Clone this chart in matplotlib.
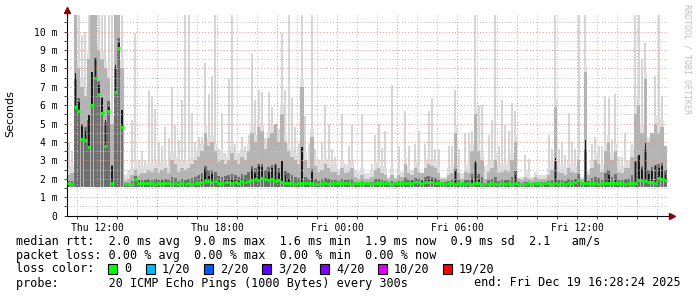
import matplotlib.pyplot as plt
from matplotlib.patches import Rectangle
import numpy as np

# ping data, one value per 10 minute step starting Thu 10:30 (hours from Thu 00:00)
start_hour = 10.5
step_hours = 1 / 6

median_ms = [
    1.75, 1.7, 5.9, 5.7, 4.15, 4.1, 3.75, 6.0, 7.5, 6.6, 5.6, 3.8,
    5.7, 1.8, 6.7, 9.1, 4.8, 1.72, 1.7, 1.72, 2.0, 1.8, 1.78, 1.8,
    1.75, 1.75, 1.7, 1.75, 1.8, 1.75, 1.75, 1.72, 1.75, 1.7, 1.75, 1.72,
    1.75, 1.72, 1.75, 1.78, 1.85, 1.9, 1.9, 1.85, 1.9, 1.8, 1.75, 1.85,
    1.85, 1.8, 1.85, 1.8, 1.9, 1.85, 1.9, 1.95, 2.0, 1.95, 2.05, 2.0,
    1.95, 2.0, 1.9, 1.95, 1.85, 1.75, 1.8, 1.75, 1.72, 1.75, 1.8, 1.75,
    1.75, 1.8, 1.72, 1.7, 1.75, 1.75, 1.72, 1.75, 1.75, 1.78, 1.75, 1.75,
    1.75, 1.72, 1.75, 1.75, 1.78, 1.75, 1.75, 1.72, 1.75, 1.75, 1.78, 1.75,
    1.75, 1.72, 1.75, 1.78, 1.78, 1.75, 1.75, 1.8, 1.82, 1.82, 1.8, 1.85,
    1.85, 1.85, 1.8, 1.75, 1.75, 1.72, 1.75, 1.75, 1.72, 1.75, 1.75, 1.72,
    1.75, 1.72, 1.75, 1.75, 1.72, 1.7, 1.72, 1.75, 1.72, 1.72, 1.75, 1.72,
    1.75, 1.72, 1.75, 1.72, 1.7, 1.72, 1.75, 1.7, 1.75, 1.78, 1.72, 1.75,
    1.75, 1.72, 1.75, 1.72, 1.75, 1.72, 1.75, 1.75, 1.85, 1.95, 1.78, 1.75,
    1.75, 1.78, 1.75, 1.72, 1.75, 1.78, 1.8, 1.75, 1.75, 1.78, 1.75, 1.72,
    1.75, 1.78, 1.8, 1.95, 1.95, 1.9, 1.85, 1.85, 1.8, 2.05, 2.0, 1.95,
]

# upper edge of the denser (medium grey) smoke
mid_ms = [
    2.2, 2.3, 11, 8.0, 7.0, 6.5, 8.5, 11, 11, 9.0, 8.5, 8.0,
    7.5, 5.0, 11, 11, 8.0, 1.9, 2.0, 2.2, 2.5, 2.2, 2.3, 2.3,
    2.5, 2.4, 2.6, 2.3, 2.5, 2.6, 2.3, 3.0, 2.8, 2.4, 2.6, 2.5,
    2.6, 2.8, 3.0, 3.2, 3.5, 4.5, 3.8, 4.0, 3.5, 2.9, 3.0, 2.8,
    3.0, 3.4, 3.0, 2.8, 3.2, 3.0, 3.5, 4.5, 4.0, 4.8, 4.6, 3.6,
    4.2, 4.5, 5.0, 4.0, 5.5, 4.0, 3.5, 3.2, 3.0, 2.8, 7.0, 3.0,
    2.6, 4.3, 2.7, 2.4, 2.5, 2.8, 2.6, 2.4, 2.4, 2.2, 2.6, 2.3,
    2.4, 2.6, 2.1, 2.0, 2.2, 2.0, 2.0, 2.1, 2.5, 2.6, 2.3, 2.2,
    2.0, 2.2, 2.0, 2.2, 2.1, 2.8, 2.3, 2.2, 2.6, 2.4, 2.3, 2.6,
    2.8, 2.7, 2.6, 2.3, 2.0, 2.0, 2.2, 2.3, 4.5, 2.3, 2.0, 2.4,
    2.3, 3.5, 5.5, 3.5, 3.0, 2.0, 2.4, 2.6, 3.0, 2.3, 2.4, 2.5,
    2.4, 3.0, 4.0, 2.0, 1.95, 2.1, 2.0, 1.95, 2.1, 2.0, 2.0, 2.0,
    2.2, 2.5, 5.9, 2.4, 2.3, 2.2, 2.6, 2.4, 2.3, 3.0, 2.0, 7.8,
    2.2, 2.6, 3.0, 2.8, 2.4, 3.5, 4.0, 3.0, 3.5, 2.4, 2.3, 2.6,
    2.6, 3.2, 5.5, 6.0, 4.5, 7.4, 4.0, 4.5, 5.0, 4.5, 4.8, 3.8,
]

# slowest ping of each step (light grey smoke)
top_ms = [
    4.0, 3.5, 11, 11, 9.8, 10.0, 11, 11, 11, 11, 11, 11,
    11, 11, 11, 11, 11, 2.2, 2.5, 5.2, 9.9, 3.0, 3.5, 3.0,
    6.8, 6.5, 5.8, 4.0, 3.8, 4.8, 4.2, 7.0, 4.9, 4.1, 6.3, 11,
    11, 5.6, 4.0, 4.3, 4.3, 8.3, 6.6, 7.6, 11, 3.6, 5.6, 3.4,
    7.4, 11, 3.9, 3.4, 4.3, 3.8, 4.4, 8.8, 6.3, 6.8, 6.7, 4.2,
    6.7, 5.9, 4.3, 4.7, 9.9, 6.8, 11, 6.4, 4.8, 3.9, 11, 5.4,
    3.9, 11, 3.6, 3.0, 4.0, 6.0, 5.0, 3.6, 3.2, 2.5, 5.5, 2.8,
    3.8, 4.9, 2.5, 2.4, 5.5, 2.3, 2.3, 2.8, 4.4, 5.0, 3.7, 4.6,
    2.1, 7.1, 2.1, 3.8, 2.4, 5.7, 3.8, 2.5, 3.9, 4.6, 2.3, 3.9,
    5.7, 6.4, 3.6, 3.6, 2.1, 2.1, 3.8, 3.8, 6.8, 3.6, 2.3, 4.5,
    4.5, 4.6, 11, 6.0, 6.0, 2.7, 4.4, 5.2, 11, 3.8, 6.3, 4.9,
    4.6, 6.1, 5.7, 2.1, 2.1, 3.3, 3.1, 2.1, 2.4, 2.2, 2.2, 2.2,
    4.4, 3.6, 11, 3.6, 4.0, 3.3, 5.6, 4.0, 3.6, 11, 2.1, 11,
    2.5, 3.9, 4.3, 3.8, 3.8, 6.5, 6.4, 4.1, 6.6, 3.2, 3.2, 4.5,
    3.0, 3.9, 11, 11, 8.5, 9.4, 4.3, 4.3, 7.6, 11, 6.5, 2.7,
]

fastest_ms = 1.58

x_ticks = [12, 18, 24, 30, 36]
x_labels = ["Thu 12:00", "Thu 18:00", "Fri 00:00", "Fri 06:00", "Fri 12:00"]

loss_labels = ["0", "1/20", "2/20", "3/20", "4/20", "10/20", "19/20"]
loss_colors = ["#00ff00", "#00b8ff", "#0059ff", "#5e00ff", "#7e00ff", "#dd00ff", "#ff0000"]

legend_lines = [
    "median rtt:  2.0 ms avg  9.0 ms max  1.6 ms min  1.9 ms now  0.9 ms sd  2.1   am/s",
    "packet loss: 0.00 % avg  0.00 % max  0.00 % min  0.00 % now",
    "loss color:",
    "probe:       20 ICMP Echo Pings (1000 Bytes) every 300s",
]
end_text = "end: Fri Dec 19 16:28:24 2025"

W, H = 697, 297
fig = plt.figure(figsize=(W / 100, H / 100), dpi=100)
ax = fig.add_axes([67 / W, 1 - 215.7 / H, (668 - 67) / W, (215.7 - 15) / H])

med = np.array(median_ms)
mid = np.array(mid_ms)
top = np.array(top_ms)
t = start_hour + step_hours * np.arange(len(med))
spread = mid - med

# smoke layers, light to dark; the tall outliers are drawn as thin columns
base = np.minimum(top, mid + 0.4)
ax.bar(t, base - fastest_ms, bottom=fastest_ms, width=step_hours, align="edge",
       color="#dedede", linewidth=0, zorder=1)
ax.bar(t + step_hours / 2, top - base, bottom=base, width=step_hours * 0.55,
       color="#d6d6d6", linewidth=0, zorder=1)
ax.bar(t, mid - fastest_ms, bottom=fastest_ms, width=step_hours, align="edge",
       color="#b4b4b4", linewidth=0, zorder=1.1)
dark = med + 0.3 * spread
ax.bar(t + step_hours / 2, dark - fastest_ms, bottom=fastest_ms, width=step_hours * 0.75,
       color="#6e6e6e", linewidth=0, zorder=1.2)
black_h = 0.15 + 0.5 * np.maximum(spread - 1.5, 0)
ax.bar(t + step_hours / 2, black_h, bottom=med - 0.08, width=step_hours * 0.5,
       color="#1a1a1a", linewidth=0, zorder=1.3)

# median rtt
ax.hlines(med, t, t + step_hours, color="#00ff00", linewidth=2.2, zorder=3)

ax.set_xlim(10.5, 40.55)
ax.set_ylim(0, 10.9)

ax.set_xticks(np.arange(12, 40, 3))
ax.set_xticklabels([x_labels[x_ticks.index(h)] if h in x_ticks else "" for h in range(12, 40, 3)])
ax.set_xticks(np.arange(11, 41, 1), minor=True)
ax.set_yticks(np.arange(0, 11, 1))
ax.set_yticklabels(["0"] + [f"{v} m" for v in range(1, 11)])
ax.set_yticks(np.arange(0.5, 10.9, 1), minor=True)

ax.grid(which="major", color="#e89a9a", linestyle=(0, (1, 2)), linewidth=0.75)
ax.grid(which="minor", color="#c4c4c4", linestyle=(0, (1, 2)), linewidth=0.75)
ax.set_axisbelow(False)

ax.tick_params(which="both", direction="out", length=2, width=0.7, color="#404040",
               labelsize=7, pad=3)
ax.tick_params(axis="y", which="major", pad=5)
for lab in ax.get_xticklabels() + ax.get_yticklabels():
    lab.set_family("DejaVu Sans Mono")

for side in ["top", "right"]:
    ax.spines[side].set_visible(False)
ax.spines["left"].set_linewidth(0.8)
ax.spines["bottom"].set_linewidth(0.8)
ax.set_facecolor("white")

# axis arrows
ax.plot([0, 0], [1, 1.02], color="black", lw=0.8, transform=ax.transAxes, clip_on=False)
ax.plot([1, 1.005], [0, 0], color="black", lw=0.8, transform=ax.transAxes, clip_on=False)
ax.plot([0], [1.025], marker="^", color="#8b0000", ms=4, transform=ax.transAxes, clip_on=False)
ax.plot([1.006], [0], marker=">", color="#8b0000", ms=4, transform=ax.transAxes, clip_on=False)

# legend / text overlay in pixel coordinates
ov = fig.add_axes([0, 0, 1, 1], facecolor="none")
ov.set_xlim(0, W)
ov.set_ylim(H, 0)
ov.axis("off")

ov.text(10, 114, "Seconds", rotation=90, ha="center", va="center", fontsize=8,
        family="DejaVu Sans")
ov.text(687, 4, "RRDTOOL / TOBI OETIKER", rotation=270, ha="center", va="top",
        fontsize=6, family="DejaVu Sans Mono", color="#c0c0c0")

rows_y = [241, 255, 269, 283]
for line, y in zip(legend_lines, rows_y):
    ov.text(16, y, line, ha="left", va="center", fontsize=8.5, family="DejaVu Sans Mono")
ov.text(681, rows_y[3], end_text, ha="right", va="center", fontsize=8.5,
        family="DejaVu Sans Mono")

box_x = [108, 146, 204, 262, 320, 378, 443]
for bx, lab, col in zip(box_x, loss_labels, loss_colors):
    ov.add_patch(Rectangle((bx, rows_y[2] - 5), 9, 10, facecolor=col,
                           edgecolor="black", linewidth=0.8))
    ov.text(bx + 16, rows_y[2], lab, ha="left", va="center", fontsize=8.5,
            family="DejaVu Sans Mono")

fig.savefig("out.png", dpi=100)
